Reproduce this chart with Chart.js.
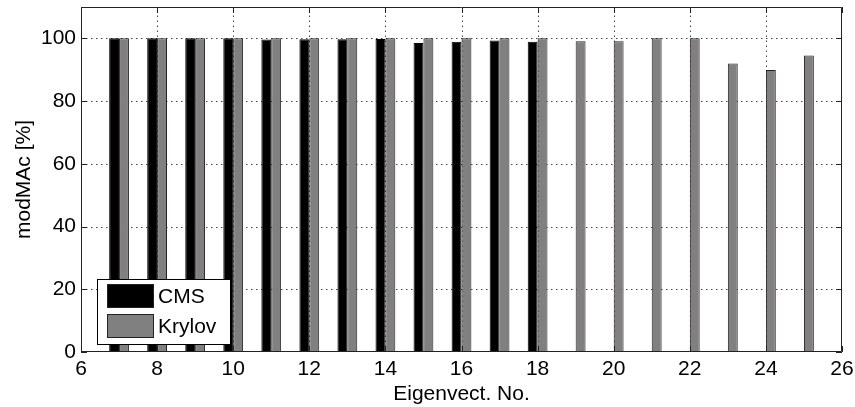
<!DOCTYPE html>
<html>
<head>
<meta charset="utf-8">
<script src="https://cdn.jsdelivr.net/npm/chart.js@4"></script>
<style>
  html, body { margin: 0; padding: 0; background: #fff; }
  canvas { display: block; }
</style>
</head>
<body>
<canvas id="modmacChart" width="855" height="407"></canvas>
<script>
// eigenvector numbers and modMAc values (%)
const eigenNo = [7, 8, 9, 10, 11, 12, 13, 14, 15, 16, 17, 18, 19, 20, 21, 22, 23, 24, 25];
const cmsValues = [100, 100, 100, 100, 99.6, 99.7, 99.7, 99.8, 98.5, 98.9, 99.3, 98.9, null, null, null, null, null, null, null];
const krylovValues = [100, 100, 100, 100, 100, 100, 100, 100, 100, 100, 100, 100, 99.1, 99.1, 100, 100, 92.0, 89.9, 94.5];
const xTicks = [6, 8, 10, 12, 14, 16, 18, 20, 22, 24, 26];
const yTicks = [0, 20, 40, 60, 80, 100];

const FONT = "'Liberation Sans', Arial, Helvetica, sans-serif";
const FSIZE = 21;

function toPoints(values) {
  return eigenNo.map((e, i) => ({ x: e, y: values[i] }));
}

// dotted grid under the bars
const dottedGrid = {
  id: "dottedGrid",
  beforeDatasetsDraw(chart) {
    const { ctx, chartArea: a, scales } = chart;
    ctx.save();
    ctx.strokeStyle = "#444";
    ctx.lineWidth = 1;
    ctx.setLineDash([1.5, 3.5]);
    ctx.beginPath();
    xTicks.slice(1, -1).forEach(v => {
      const px = Math.round(scales.x.getPixelForValue(v)) + 0.5;
      ctx.moveTo(px, a.bottom); ctx.lineTo(px, a.top);
    });
    yTicks.slice(1).forEach(v => {
      const py = Math.round(scales.y.getPixelForValue(v)) + 0.5;
      ctx.moveTo(a.left, py); ctx.lineTo(a.right, py);
    });
    ctx.stroke();
    ctx.restore();
  }
};

// matlab style box with inward ticks, plus the legend
const axesBox = {
  id: "axesBox",
  afterDatasetsDraw(chart) {
    const { ctx, chartArea: a, scales } = chart;
    ctx.save();
    ctx.strokeStyle = "#222";
    ctx.lineWidth = 1;
    ctx.beginPath();
    ctx.rect(a.left + 0.5, a.top + 0.5, a.right - a.left - 1, a.bottom - a.top - 1);
    ctx.stroke();
    const len = 6;
    ctx.beginPath();
    xTicks.forEach(v => {
      const px = Math.round(scales.x.getPixelForValue(v)) + 0.5;
      ctx.moveTo(px, a.bottom); ctx.lineTo(px, a.bottom - len);
      ctx.moveTo(px, a.top); ctx.lineTo(px, a.top + len);
    });
    yTicks.forEach(v => {
      const py = Math.round(scales.y.getPixelForValue(v)) + 0.5;
      ctx.moveTo(a.left, py); ctx.lineTo(a.left + len, py);
      ctx.moveTo(a.right, py); ctx.lineTo(a.right - len, py);
    });
    ctx.stroke();

    const lx = a.left + 16, ly = a.bottom - 73;
    ctx.fillStyle = "#fff";
    ctx.fillRect(lx, ly, 133, 65);
    ctx.strokeStyle = "#000";
    ctx.strokeRect(lx + 0.5, ly + 0.5, 133, 65);
    ctx.font = FSIZE + "px " + FONT;
    ctx.textBaseline = "middle";
    chart.data.datasets.forEach((ds, i) => {
      const ry = ly + 5 + i * 30;
      ctx.fillStyle = ds.backgroundColor;
      ctx.fillRect(lx + 10, ry, 47, 24);
      ctx.strokeStyle = "#222";
      ctx.strokeRect(lx + 10.5, ry + 0.5, 46, 23);
      ctx.fillStyle = "#000";
      ctx.fillText(ds.label, lx + 61, ry + 13);
    });
    ctx.restore();
  }
};

new Chart(document.getElementById("modmacChart"), {
  type: "bar",
  data: {
    datasets: [
      {
        label: "CMS",
        data: toPoints(cmsValues),
        backgroundColor: "#000000",
        borderColor: "#000000",
        borderWidth: 1,
      },
      {
        label: "Krylov",
        data: toPoints(krylovValues),
        backgroundColor: "#808080",
        borderColor: "#2a2020",
        borderWidth: 1,
      },
    ],
  },
  options: {
    responsive: false,
    animation: false,
    categoryPercentage: 0.52,
    barPercentage: 1.0,
    layout: { padding: { left: 0, right: 13, top: 7, bottom: 0 } },
    plugins: {
      legend: { display: false },
      tooltip: { enabled: false },
    },
    scales: {
      x: {
        type: "linear",
        min: 6,
        max: 26,
        offset: false,
        afterBuildTicks: s => { s.ticks = xTicks.map(v => ({ value: v })); },
        afterFit: s => { s.height = 55; s.paddingLeft = 0; s.paddingRight = 0; },
        grid: { display: false, drawTicks: false, offset: false },
        border: { display: false },
        ticks: {
          color: "#000",
          padding: 5,
          maxRotation: 0,
          font: { family: FONT, size: FSIZE },
        },
        title: {
          display: true,
          text: "Eigenvect. No.",
          color: "#000",
          padding: { top: 0, bottom: 0 },
          font: { family: FONT, size: FSIZE },
        },
      },
      y: {
        min: 0,
        max: 110,
        afterBuildTicks: s => { s.ticks = yTicks.map(v => ({ value: v })); },
        afterFit: s => { s.width = 81; s.paddingTop = 0; s.paddingBottom = 0; },
        grid: { display: false, drawTicks: false },
        border: { display: false },
        ticks: {
          color: "#000",
          padding: 5,
          font: { family: FONT, size: FSIZE },
        },
        title: {
          display: true,
          text: "modMAc [%]",
          color: "#000",
          padding: { top: 12, bottom: 0 },
          font: { family: FONT, size: FSIZE },
        },
      },
    },
  },
  plugins: [dottedGrid, axesBox],
});
</script>
</body>
</html>
